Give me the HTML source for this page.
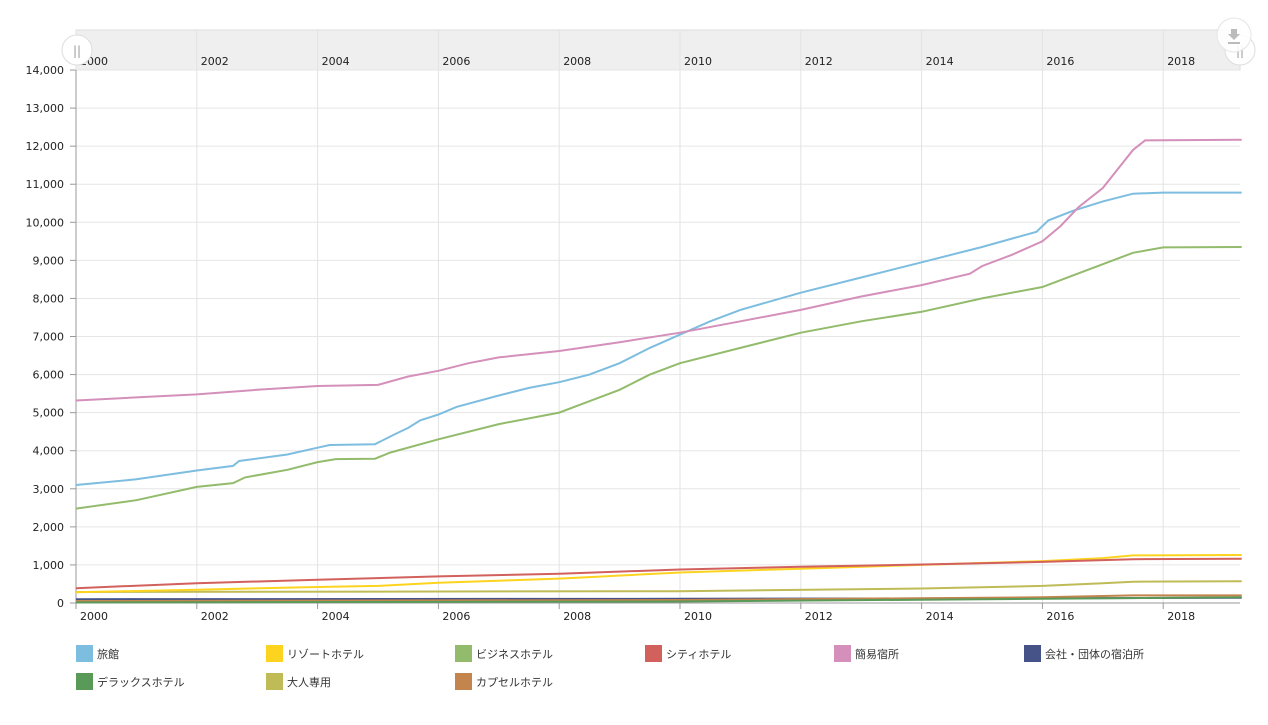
<!DOCTYPE html><html><head><meta charset="utf-8"><style>
body{margin:0;background:#fff;width:1268px;height:720px;overflow:hidden;font-family:"Liberation Sans","Noto Sans CJK JP",sans-serif}
</style></head><body>
<svg id="s" width="1268" height="720" xmlns="http://www.w3.org/2000/svg" style="font-family:'DejaVu Sans','Noto Sans CJK JP',sans-serif">
<rect x="76" y="30" width="1164" height="40" fill="#efefef" stroke="#ddd"/>
<g id="g"></g>
<line x1="76" y1="70" x2="76" y2="603" stroke="#999"/>
<line x1="76" y1="603" x2="1240" y2="603" stroke="#999"/>
<g id="lines"></g>
<circle cx="77" cy="50" r="15" fill="#fff" stroke="#ddd"/><text x="77" y="55" font-size="12" fill="#999" text-anchor="middle">||</text>
<circle cx="1240" cy="50" r="15" fill="#fff" stroke="#ddd"/><text x="1240" y="55" font-size="12" fill="#999" text-anchor="middle">||</text>
<circle cx="1234" cy="35" r="17" fill="#fff" fill-opacity="0.85" stroke="#e5e5e5"/>
<path d="M1231 29h6v5h3l-6 6-6-6h3z M1228 42h12v2h-12z" fill="#bbb"/>
<g id="leg" font-size="11" fill="#333"></g>
</svg>
<script>
const X=y=>76+(y-2000)*60.4, Y=v=>603-v*0.03807;
let g='';
for(let v=0;v<=14000;v+=1000){const y=Y(v);g+=`<line x1="76" y1="${y}" x2="1240" y2="${y}" stroke="#e6e6e6"/><line x1="70" y1="${y}" x2="76" y2="${y}" stroke="#999"/><text x="64" y="${y+4}" font-size="11" text-anchor="end" fill="#222">${v.toLocaleString('en')}</text>`;}
for(let yr=2000;yr<=2018;yr+=2){const x=X(yr);g+=`<line x1="${x}" y1="30" x2="${x}" y2="603" stroke="#e3e3e3"/><line x1="${x}" y1="603" x2="${x}" y2="609" stroke="#999"/><text x="${x+4}" y="620" font-size="11" fill="#222">${yr}</text><text x="${x+4}" y="65" font-size="11" fill="#222">${yr}</text>`;}
document.getElementById('g').innerHTML=g;
const S=[
['#7dbde0',[[2000,3100],[2001,3250],[2002,3480],[2002.6,3600],[2002.7,3730],[2003.5,3900],[2004,4080],[2004.2,4150],[2004.95,4170],[2005.3,4450],[2005.5,4600],[2005.7,4800],[2006,4950],[2006.3,5150],[2007,5450],[2007.5,5650],[2008,5800],[2008.5,6000],[2009,6300],[2009.5,6700],[2010,7050],[2010.5,7400],[2011,7700],[2012,8150],[2013,8550],[2014,8950],[2015,9350],[2015.9,9750],[2016.1,10050],[2016.5,10300],[2017,10550],[2017.5,10750],[2018,10780],[2019.3,10780]]],
['#d48fba',[[2000,5320],[2001,5400],[2002,5480],[2003,5600],[2004,5700],[2005,5730],[2005.5,5950],[2006,6100],[2006.5,6300],[2007,6450],[2008,6620],[2009,6850],[2010,7100],[2011,7400],[2012,7700],[2013,8050],[2014,8350],[2014.8,8650],[2015,8850],[2015.5,9150],[2016,9500],[2016.3,9900],[2016.6,10400],[2017,10900],[2017.2,11300],[2017.5,11900],[2017.7,12150],[2019.3,12170]]],
['#93bb6c',[[2000,2480],[2001,2700],[2002,3050],[2002.6,3150],[2002.8,3300],[2003.5,3500],[2004,3700],[2004.3,3780],[2004.95,3790],[2005.2,3950],[2006,4300],[2007,4700],[2008,5000],[2008.5,5300],[2009,5600],[2009.5,6000],[2010,6300],[2011,6700],[2012,7100],[2013,7400],[2014,7650],[2015,8000],[2016,8300],[2016.5,8600],[2017,8900],[2017.5,9200],[2018,9340],[2019.3,9350]]],
['#bfbb56',[[2000,290],[2010,310],[2014,380],[2016,450],[2017,520],[2017.5,560],[2019.3,570]]],
['#fcd420',[[2000,280],[2002,350],[2004,420],[2005,450],[2006,530],[2008,640],[2010,800],[2012,900],[2014,1000],[2016,1100],[2017,1180],[2017.5,1250],[2019.3,1260]]],
['#d2605c',[[2000,390],[2002,520],[2004,610],[2006,700],[2008,770],[2010,880],[2012,950],[2014,1010],[2016,1080],[2017.5,1150],[2019.3,1160]]],
['#465388',[[2000,100],[2010,110],[2016,125],[2019.3,140]]],
['#c4844e',[[2000,50],[2010,80],[2016,150],[2017.5,200],[2019.3,200]]],
['#5a9a58',[[2000,15],[2010,40],[2016,110],[2019.3,150]]]];
document.getElementById('lines').innerHTML=S.map(([c,p])=>`<polyline fill="none" stroke="${c}" stroke-width="2" points="${p.map(([a,b])=>X(a).toFixed(1)+','+Y(b).toFixed(1)).join(' ')}"/>`).join('');
const L=[['#7dbde0','旅館'],['#fcd420','リゾートホテル'],['#93bb6c','ビジネスホテル'],['#d2605c','シティホテル'],['#d48fba','簡易宿所'],['#465388','会社・団体の宿泊所'],['#5a9a58','デラックスホテル'],['#bfbb56','大人専用'],['#c4844e','カプセルホテル']];
const cx=[76,266,455,645,834,1024];
document.getElementById('leg').innerHTML=L.map(([c,t],i)=>{const x=cx[i%6],y=i<6?645:673;return `<rect x="${x}" y="${y}" width="17" height="17" fill="${c}"/><text x="${x+21}" y="${y+13}">${t}</text>`}).join('');
</script>
</body></html>
